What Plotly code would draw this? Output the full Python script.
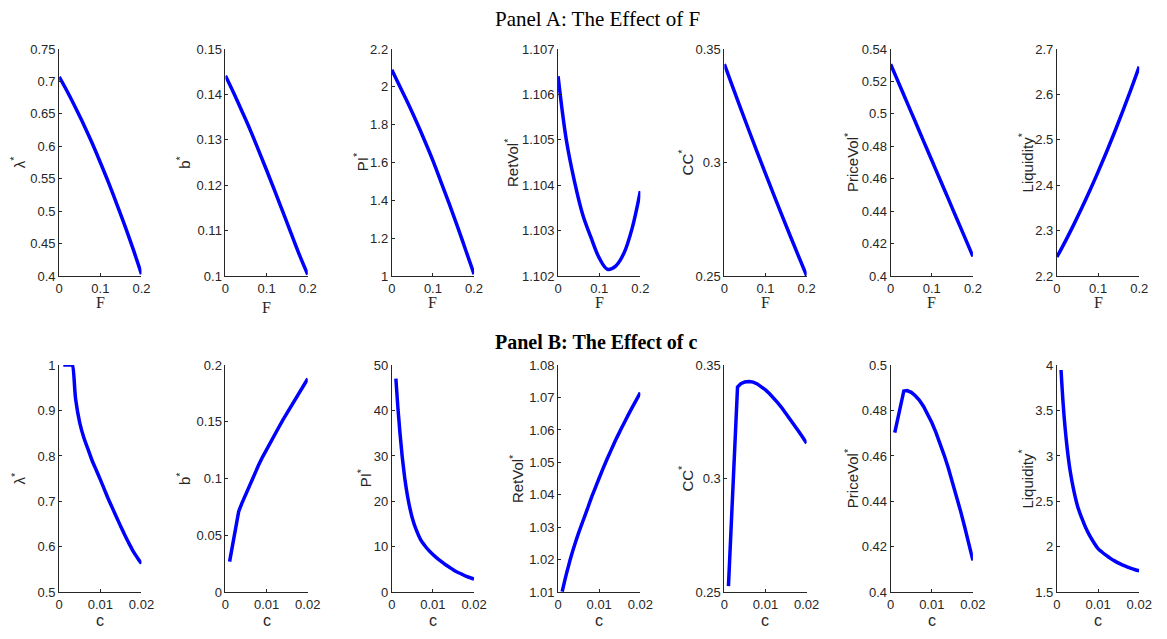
import plotly.graph_objects as go

# ---------------- data ----------------
F = [0, 0.02, 0.04, 0.06, 0.08, 0.1, 0.12, 0.14, 0.16, 0.18, 0.2]
A_lambda = [0.707, 0.684, 0.659, 0.633, 0.605, 0.575, 0.544, 0.511, 0.477, 0.441, 0.403]
A_b = [0.1441, 0.1403, 0.1363, 0.1322, 0.1278, 0.1233, 0.1187, 0.1140, 0.1093, 0.1046, 0.1003]
A_PI = [2.09, 2.0, 1.91, 1.815, 1.715, 1.61, 1.495, 1.38, 1.26, 1.135, 1.01]
A_RetVol = [1.10640, 1.10500, 1.10408, 1.10335, 1.10285, 1.10240, 1.10215, 1.10222, 1.10250, 1.10305, 1.10387]
A_CC = [0.3433, 0.3334, 0.32363, 0.31399, 0.30448, 0.29510, 0.28585, 0.27673, 0.26774, 0.25888, 0.25015]
A_PriceVol = [0.5306, 0.5188, 0.5069, 0.4951, 0.4832, 0.4714, 0.4595, 0.4477, 0.4358, 0.4240, 0.4121]
A_Liquidity = [2.242, 2.2759, 2.3116, 2.349, 2.3882, 2.4293, 2.472, 2.5166, 2.563, 2.6111, 2.661]

C = [0.001, 0.0015, 0.002, 0.0025, 0.003, 0.0032, 0.004, 0.005, 0.006, 0.007, 0.008, 0.009,
     0.010, 0.011, 0.012, 0.013, 0.014, 0.015, 0.016, 0.017, 0.018, 0.019, 0.020]
B_lambda = [1.0, 1.0, 1.0, 1.0, 1.0, 1.0, 0.925, 0.873, 0.840, 0.815, 0.790, 0.769,
            0.748, 0.726, 0.704, 0.684, 0.664, 0.644, 0.625, 0.607, 0.590, 0.576, 0.563]
B_b = [0.027, 0.037, 0.047, 0.057, 0.067, 0.071, 0.0785, 0.087, 0.0955, 0.1035, 0.1115, 0.119,
       0.126, 0.1325, 0.139, 0.1455, 0.152, 0.158, 0.164, 0.170, 0.176, 0.182, 0.188]
B_PI = [47.0, 40.5, 35.0, 30.2, 26.3, 24.8, 20.3, 16.3, 13.6, 11.6, 10.3, 9.2,
        8.3, 7.5, 6.8, 6.1, 5.5, 4.9, 4.4, 4.0, 3.55, 3.2, 2.87]
B_RetVol = [1.0102, 1.0129, 1.0155, 1.0179, 1.0203, 1.0212, 1.0245, 1.0283, 1.0318, 1.0352, 1.0388, 1.0420,
            1.0452, 1.0483, 1.0513, 1.0541, 1.0569, 1.0595, 1.0620, 1.0645, 1.0669, 1.0692, 1.0715]
B_CC = [0.2527, 0.2727, 0.2926, 0.3125, 0.3324, 0.3404, 0.3418, 0.3426, 0.3428, 0.3425, 0.3417, 0.3405,
        0.3391, 0.3374, 0.3355, 0.3334, 0.3311, 0.3287, 0.3262, 0.3236, 0.3210, 0.3183, 0.3156]
B_PriceVol = [0.4703, 0.4745, 0.4786, 0.4828, 0.4869, 0.4886, 0.4888, 0.4880, 0.4865, 0.4845, 0.4818, 0.4785,
              0.4747, 0.4704, 0.4656, 0.4604, 0.4548, 0.4488, 0.4424, 0.4357, 0.4287, 0.4214, 0.4140]
B_Liquidity = [3.946, 3.58, 3.30, 3.08, 2.90, 2.84, 2.64, 2.45, 2.32, 2.21, 2.12, 2.045,
               1.98, 1.94, 1.905, 1.873, 1.845, 1.82, 1.798, 1.78, 1.763, 1.748, 1.736]

y_titles = ["λ<sup>*</sup>", "b<sup>*</sup>", "PI<sup>*</sup>", "RetVol<sup>*</sup>",
            "CC<sup>*</sup>", "PriceVol<sup>*</sup>", "Liquidity<sup>*</sup>"]
x_titles = ["F", "c"]

A_yticks = [
    ["0.4", "0.45", "0.5", "0.55", "0.6", "0.65", "0.7", "0.75"],
    ["0.1", "0.11", "0.12", "0.13", "0.14", "0.15"],
    ["1", "1.2", "1.4", "1.6", "1.8", "2", "2.2"],
    ["1.102", "1.103", "1.104", "1.105", "1.106", "1.107"],
    ["0.25", "0.3", "0.35"],
    ["0.4", "0.42", "0.44", "0.46", "0.48", "0.5", "0.52", "0.54"],
    ["2.2", "2.3", "2.4", "2.5", "2.6", "2.7"],
]
B_yticks = [
    ["0.5", "0.6", "0.7", "0.8", "0.9", "1"],
    ["0", "0.05", "0.1", "0.15", "0.2"],
    ["0", "10", "20", "30", "40", "50"],
    ["1.01", "1.02", "1.03", "1.04", "1.05", "1.06", "1.07", "1.08"],
    ["0.25", "0.3", "0.35"],
    ["0.4", "0.42", "0.44", "0.46", "0.48", "0.5"],
    ["1.5", "2", "2.5", "3", "3.5", "4"],
]
A_xticks = ["0", "0.1", "0.2"]
B_xticks = ["0", "0.01", "0.02"]

A_series = [A_lambda, A_b, A_PI, A_RetVol, A_CC, A_PriceVol, A_Liquidity]
B_series = [B_lambda, B_b, B_PI, B_RetVol, B_CC, B_PriceVol, B_Liquidity]

# line shapes (style): kinked B-series drawn straight, smooth ones as splines
B_shapes = ["spline", "linear", "spline", "spline", "linear", "linear", "spline"]

# ---------------- layout ----------------
W, H = 1167, 639
AX = "#262626"
BLUE = "#0000FF"
SANS = "Liberation Sans"
SERIF = "Liberation Serif"

# axis-title pixel positions (centres)
ytitle_x = [
    [14, 182, 362, 515, 692, 860, 1037],
    [15, 182, 366, 520, 692, 860, 1037],
]
xtitle_y = [[303, 308, 303, 303, 303, 303, 303], [628] * 7]

fig = go.Figure()
layout = dict(
    width=W, height=H, margin=dict(l=0, r=0, t=0, b=0),
    paper_bgcolor="white", plot_bgcolor="white", showlegend=False,
    font=dict(family=SANS, color=AX, size=13),
)

left0, step, wpx = 56.0, 168.75, 83.5
rows_px = [(43.0, 275.5), (366.7, 599.3)]


def axis_common():
    return dict(
        showline=True, linecolor=AX, linewidth=1, mirror=False,
        ticks="inside", ticklen=3, tickcolor=AX, tickwidth=1,
        showgrid=False, zeroline=False, fixedrange=True,
        tickfont=dict(family=SANS, size=13, color=AX),
    )


annotations = []
k = 0
for r in range(2):
    xs = F if r == 0 else C
    series = A_series if r == 0 else B_series
    yticks = A_yticks if r == 0 else B_yticks
    xticks = A_xticks if r == 0 else B_xticks
    xmax = 0.2 if r == 0 else 0.02
    top_px, bot_px = rows_px[r]
    for i in range(7):
        k += 1
        xa = "x" if k == 1 else f"x{k}"
        ya = "y" if k == 1 else f"y{k}"
        x0px = left0 + step * i
        x0 = x0px / W
        x1 = (x0px + wpx) / W
        yt = yticks[i]
        yv = [float(t) for t in yt]
        shape = "spline" if r == 0 else B_shapes[i]
        fig.add_trace(go.Scatter(
            x=xs, y=series[i], xaxis=xa, yaxis=ya, mode="lines",
            line=dict(color=BLUE, width=3.5, shape=shape, smoothing=1.0),
            hoverinfo="skip",
        ))
        xd = axis_common()
        xd.update(domain=[x0, x1], anchor=ya, range=[0, xmax],
                  tickvals=[float(t) for t in xticks], ticktext=xticks)
        yd = axis_common()
        yd.update(domain=[1 - bot_px / H, 1 - top_px / H], anchor=xa, range=[yv[0], yv[-1]],
                  tickvals=yv, ticktext=yt)
        layout["xaxis" if k == 1 else f"xaxis{k}"] = xd
        layout["yaxis" if k == 1 else f"yaxis{k}"] = yd

        # y-axis title
        annotations.append(dict(
            text=y_titles[i], x=ytitle_x[r][i] / W, y=1 - (top_px + bot_px) / 2 / H,
            xref="paper", yref="paper", xanchor="center", yanchor="middle",
            textangle=-90, showarrow=False,
            font=dict(family=SANS, size=15, color=AX)))
        # x-axis title
        annotations.append(dict(
            text=x_titles[r], x=(x0px + wpx / 2) / W, y=1 - xtitle_y[r][i] / H,
            xref="paper", yref="paper", xanchor="center", yanchor="middle",
            showarrow=False,
            font=dict(family=SERIF if r == 0 else SANS, size=16, color=AX)))

annotations += [
    dict(text="Panel A: The Effect of F", x=602 / W, y=1 - 12.2 / H, xref="paper", yref="paper",
         xanchor="center", yanchor="middle", showarrow=False,
         font=dict(family=SERIF, size=21, color="black")),
    dict(text="<b>Panel B: The Effect of c</b>", x=601 / W, y=1 - 343.3 / H, xref="paper", yref="paper",
         xanchor="center", yanchor="middle", showarrow=False,
         font=dict(family=SERIF, size=20, color="black")),
]
layout["annotations"] = annotations

fig.update_layout(**layout)
fig.write_html("out.html", config={"displayModeBar": False},
               post_script="document.body.style.margin='0px';")
